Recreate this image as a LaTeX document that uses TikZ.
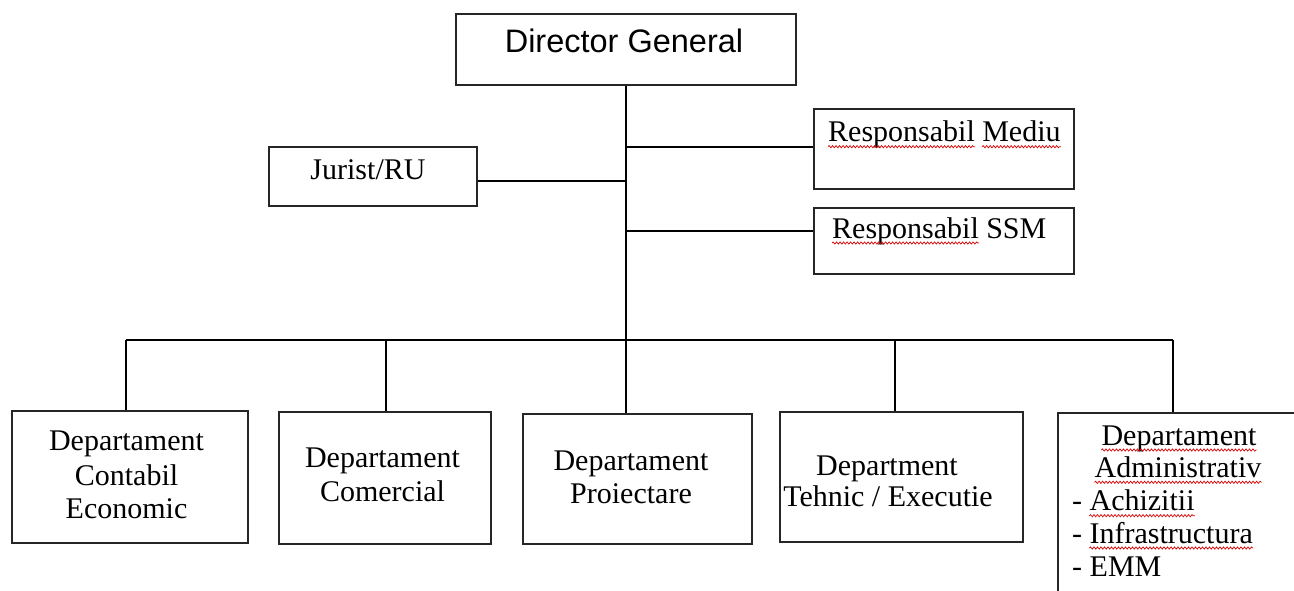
\documentclass[tikz,border=0pt]{standalone}
\usepackage{fontspec}
\setmainfont{Liberation Serif}
\newfontfamily\arialf{Liberation Sans}
\usetikzlibrary{decorations.pathmorphing}
\tikzset{
  box/.style={draw=black!85, line width=1.6pt, inner sep=0pt, anchor=north west},
  txt/.style={inner sep=0pt, anchor=base, font=\fontsize{30}{33}\selectfont},
  txtl/.style={txt, anchor=base west},
  conn/.style={draw=black, line width=1.5pt},
  wave/.style={draw=red!85!black, line width=0.7pt, decorate, decoration={snake, amplitude=1.1pt, segment length=3.5pt}}
}
\newcommand\wv[1]{\draw[wave] ([yshift=-5pt]#1.base west) -- ([yshift=-5pt]#1.base east);}
\begin{document}
\begin{tikzpicture}[x=1pt,y=-1pt]
\clip (0,0) rectangle (1294,590);
\useasboundingbox (0,0) rectangle (1294,590);
\fill[white] (0,0) rectangle (1294,590);
% boxes
\node[box, minimum width=340pt, minimum height=71pt] (dg) at (455,13) {};
\node[box, minimum width=260pt, minimum height=80pt] (med) at (813,108) {};
\node[box, minimum width=260pt, minimum height=66pt] (ssm) at (813,207) {};
\node[box, minimum width=208pt, minimum height=59pt] (jur) at (268,146) {};
\node[box, minimum width=236pt, minimum height=132pt] (b1) at (11,410) {};
\node[box, minimum width=212pt, minimum height=132pt] (b2) at (278,411) {};
\node[box, minimum width=229pt, minimum height=130pt] (b3) at (522,413) {};
\node[box, minimum width=243pt, minimum height=130pt] (b4) at (779,411) {};
\node[box, minimum width=260pt, minimum height=200pt] (b5) at (1057,412) {};
% connector points
\coordinate (cm) at (625,147);
\coordinate (cj) at (625,181);
\coordinate (cs) at (625,231);
\coordinate (d1) at (126,340);
\coordinate (d2) at (386,340);
\coordinate (d4) at (895,340);
\coordinate (d5) at (1173,340);
% connectors
\draw[conn] (dg.south) -- (dg.south |- b3.north);
\draw[conn] (cm) -- (cm -| med.west);
\draw[conn] (cj) -- (cj -| jur.east);
\draw[conn] (cs) -- (cs -| ssm.west);
\draw[conn] (d1) -- (d5);
\draw[conn] (d1) -- (d1 |- b1.north);
\draw[conn] (d2) -- (d2 |- b2.north);
\draw[conn] (d4) -- (d4 |- b4.north);
\draw[conn] (d5) -- (d5 |- b5.north);
% texts
\node[txt, font=\arialf\fontsize{32.5}{36}\selectfont] (tdg) at (624,52) {Director General};
\node[txtl] (tmedA) at (828,141.7) {Responsabil};
\node[txtl] (tmedB) at ([xshift=7pt]tmedA.base east) {Mediu};
\node[txtl] (tssmA) at (832,238) {Responsabil};
\node[txtl] (tssmB) at ([xshift=7pt]tssmA.base east) {SSM};
\node[txt] (tjur) at (368,179.3) {Jurist/RU};
\node[txt] (t1a) at (126.5,450) {Departament};
\node[txt] (t1b) at (126.5,485) {Contabil};
\node[txt] (t1c) at (126.5,518) {Economic};
\node[txt] (t2a) at (382.5,467.7) {Departament};
\node[txt] (t2b) at (382.5,501.7) {Comercial};
\node[txt] (t3a) at (631,470) {Departament};
\node[txt] (t3b) at (631,503) {Proiectare};
\node[txt] (t4a) at (887,475.7) {Department};
\node[txt] (t4b) at (888,506.7) {Tehnic / Executie};
\node[txt] (t5a) at (1179,445) {Departament};
\node[txt] (t5b) at (1178,477.3) {Administrativ};
\node[txtl] (t5c) at (1072,510.7) {-};
\node[txtl] (t5cw) at ([xshift=7pt]t5c.base east) {Achizitii};
\node[txtl] (t5d) at (1072,543) {-};
\node[txtl] (t5dw) at ([xshift=7pt]t5d.base east) {Infrastructura};
\node[txtl] (t5e) at (1072,576.7) {- EMM};
% spell-check squiggles
\wv{tmedA}\wv{tmedB}\wv{tssmA}\wv{t5a}\wv{t5b}\wv{t5cw}\wv{t5dw}
\end{tikzpicture}
\end{document}
